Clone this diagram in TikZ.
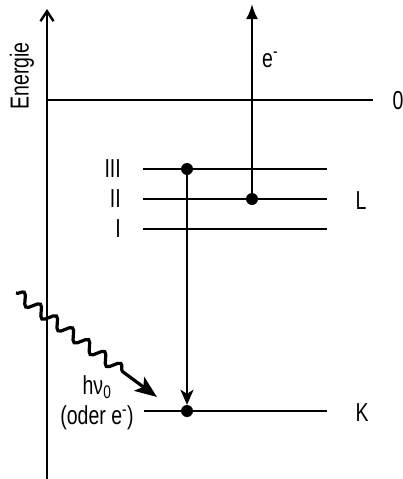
\documentclass[tikz,border=0pt]{standalone}
\usepackage{fontspec}
\setmainfont{Liberation Sans}[FakeStretch=0.75]
\usetikzlibrary{arrows.meta,decorations.pathmorphing}

\begin{document}
\begin{tikzpicture}[x=1pt,y=-1pt,
  level/.style={draw=black,line width=2.4pt},
  axis/.style={draw=black,line width=2.4pt,-{Straight Barb[length=10pt,width=13pt]}},
  jump/.style={draw=black,line width=2.4pt,-{Stealth[length=15pt,width=13pt,inset=4pt]}},
  photon/.style={draw=black,line width=3.2pt,-{Stealth[length=22pt,width=17pt,inset=5pt]},
    decorate,decoration={snake,segment length=20pt,amplitude=5.5pt,post length=36pt}},
  dot/.style={circle,fill=black,inner sep=0pt,minimum size=12pt},
  label/.style={font=\fontsize{26}{30}\selectfont,inner sep=0pt}]

\useasboundingbox (0,0) rectangle (403,479);

% Energy axis.
\coordinate (axbot) at (47,479);
\coordinate (axtop) at (47,9);
\draw[axis] (axbot) -- (axtop);
\node[label,rotate=90] (energie) at (22,76) {Energie};

% Ionisation limit.
\coordinate (zeroa) at (47,100);
\coordinate (zerob) at (373,100);
\draw[level] (zeroa) -- (zerob);
\node[label] (zero) at (398,101) {0};

% L shell: sublevels I-III.
\foreach \y/\name in {169/III,199/II,229/I}
{
  \coordinate (l\name a) at (143,\y);
  \coordinate (l\name b) at (327,\y);
  \draw[level] (l\name a) -- (l\name b);
  \node[label,anchor=east] (t\name) at (121,\y) {\name};
}
\node[label] (shellL) at (361,201) {L};

% K shell.
\coordinate (ka) at (144,411);
\coordinate (kb) at (327,411);
\draw[level] (ka) -- (kb);
\node[label] (shellK) at (362,413) {K};

% Electrons and transitions.
\node[dot] (pIII) at (187,169) {};
\node[dot] (pII) at (252,199) {};
\node[dot] (pK) at (187,411) {};
\coordinate (etop) at (252,4);
\draw[jump,-{Latex[length=15pt,width=12pt]}] (pII.center) -- (etop);
\node[label,anchor=base west] (elec) at (262,67) {e\textsuperscript{-}};
\draw[jump] (pIII.center) -- (pK.north);

% Incoming photon.
\coordinate (wstart) at (16,293);
\coordinate (wend) at (157,397);
\draw[photon] (wstart) -- (wend);
\node[label,align=center] (hnu) at (97,403) {hν\textsubscript{0}\\(oder e\textsuperscript{-})};
\end{tikzpicture}
\end{document}
